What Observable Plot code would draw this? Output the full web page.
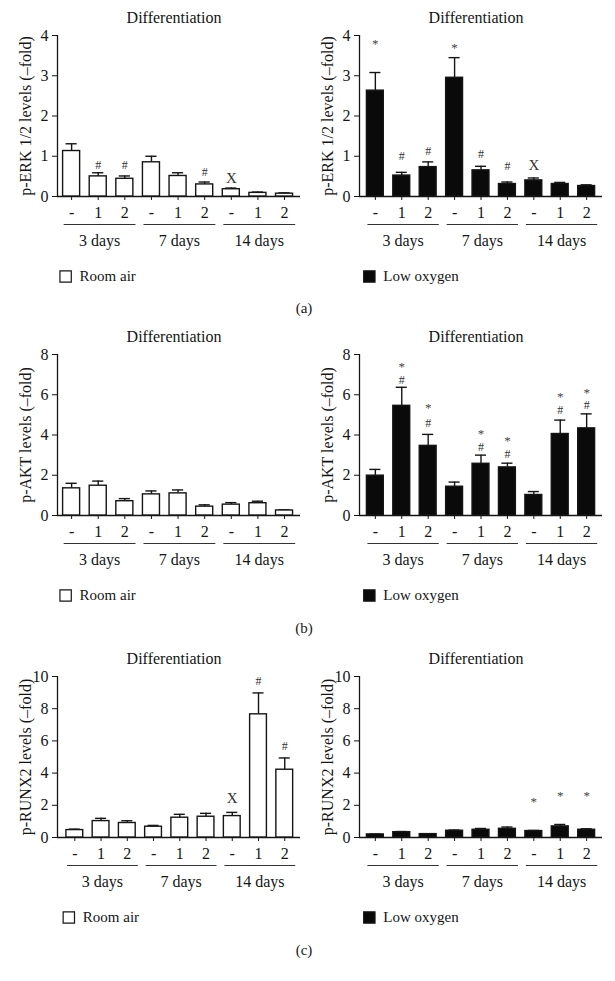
<!DOCTYPE html>
<html>
<head>
<meta charset="utf-8">
<script src="https://cdn.jsdelivr.net/npm/d3@7"></script>
<script src="https://cdn.jsdelivr.net/npm/@observablehq/plot@0.6"></script>
<style>
  html, body { margin: 0; padding: 0; background: #fff; }
  body { width: 615px; height: 981px; position: relative; overflow: hidden; font-family: "Liberation Serif", serif; color: #1a1a1a; }
  .panel { position: absolute; }
  .cap { position: absolute; font-size: 15px; transform: translate(-50%, -50%); }
</style>
</head>
<body>
<div id="root"></div>
<script>
// ---------- data ----------
const days = ["3 days", "7 days", "14 days"];
const treatments = ["-", "1", "2"];

// p-ERK 1/2
const erkRoom    = [1.13, 0.50, 0.44, 0.85, 0.51, 0.30, 0.18, 0.09, 0.07];
const erkRoomSem = [0.18, 0.09, 0.07, 0.15, 0.08, 0.06, 0.03, 0.02, 0.02];
const erkLow     = [2.63, 0.52, 0.73, 2.95, 0.65, 0.31, 0.40, 0.31, 0.26];
const erkLowSem  = [0.45, 0.08, 0.13, 0.50, 0.10, 0.05, 0.06, 0.04, 0.03];

// p-AKT
const aktRoom    = [1.35, 1.48, 0.71, 1.05, 1.10, 0.44, 0.54, 0.61, 0.25];
const aktRoomSem = [0.25, 0.23, 0.13, 0.17, 0.17, 0.09, 0.10, 0.10, 0.03];
const aktLow     = [1.98, 5.45, 3.46, 1.43, 2.57, 2.39, 1.02, 4.05, 4.33];
const aktLowSem  = [0.31, 0.92, 0.57, 0.23, 0.43, 0.21, 0.17, 0.69, 0.72];

// p-RUNX2
const runxRoom    = [0.46, 1.02, 0.90, 0.67, 1.23, 1.29, 1.33, 7.65, 4.21];
const runxRoomSem = [0.06, 0.17, 0.14, 0.08, 0.21, 0.21, 0.23, 1.33, 0.73];
const runxLow     = [0.19, 0.33, 0.21, 0.42, 0.48, 0.54, 0.40, 0.69, 0.48];
const runxLowSem  = [0.02, 0.04, 0.02, 0.04, 0.08, 0.11, 0.04, 0.12, 0.06];

// significance marks: level (in data units) where each symbol sits, null = none
const erkRoomHash = [null, 0.79, 0.79, null, null, 0.60, null, null, null];
const erkRoomX    = [null, null, null, null, null, null, 0.46, null, null];
const erkLowStar  = [3.83, null, null, 3.73, null, null, null, null, null];
const erkLowHash  = [null, 1.01, 1.13, null, 1.04, 0.75, null, null, null];
const erkLowX     = [null, null, null, null, null, null, 0.79, null, null];
const aktLowStar  = [null, 7.46, 5.43, null, 4.12, 3.80, null, 5.98, 6.17];
const aktLowHash  = [null, 6.75, 4.58, null, 3.40, 3.05, null, 5.23, 5.48];
const runxRoomHash = [null, null, null, null, null, null, null, 9.69, 5.67];
const runxRoomX    = [null, null, null, null, null, null, 2.44, null, null];
const runxLowStar  = [null, null, null, null, null, null, 2.29, 2.71, 2.71];

const titles = ["Differentiation"];
const legends = ["Room air", "Low oxygen"];
const yLabels = ["p-ERK 1/2 levels (–fold)", "p-AKT levels (–fold)", "p-RUNX2 levels (–fold)"];
const captions = ["(a)", "(b)", "(c)"];
const yMax = [4, 8, 10];
const yStep = [1, 2, 2];

// ---------- panels ----------
const panels = [
  {left: 0,   top: 0,   row: 0, v: erkRoom,  s: erkRoomSem,  fill: "white", legend: legends[0], hash: erkRoomHash, x: erkRoomX, x0: -0.53},
  {left: 302, top: 0,   row: 0, v: erkLow,   s: erkLowSem,   fill: "#0a0a0a", legend: legends[1], hash: erkLowHash, star: erkLowStar, x: erkLowX, x0: -0.6},
  {left: 0,   top: 319, row: 1, v: aktRoom,  s: aktRoomSem,  fill: "white", legend: legends[0], x0: -0.53},
  {left: 302, top: 319, row: 1, v: aktLow,   s: aktLowSem,   fill: "#0a0a0a", legend: legends[1], hash: aktLowHash, star: aktLowStar, x0: -0.6},
  {left: 0,   top: 641, row: 2, v: runxRoom, s: runxRoomSem, fill: "white", legend: legends[0], hash: runxRoomHash, x: runxRoomX, x0: -0.66},
  {left: 302, top: 641, row: 2, v: runxLow,  s: runxLowSem,  fill: "#0a0a0a", legend: legends[1], star: runxLowStar, x0: -0.6}
];

const INK = "#151515";
const root = document.getElementById("root");

function marksFor(arr, sym) {
  return (arr || []).map((y, i) => ({i, y, sym})).filter(d => d.y != null);
}

for (const p of panels) {
  const rows = p.v.map((v, i) => ({i, v, e: v + p.s[i]}));
  const groups = days.map((d, g) => ({d, a: g * 3 - 0.3, b: g * 3 + 2.4, mid: g * 3 + 1.05}));
  const ymax = yMax[p.row];
  const chart = Plot.plot({
    width: 305, height: 300,
    marginLeft: 57, marginRight: 5, marginTop: 35, marginBottom: 104,
    style: {fontFamily: "'Liberation Serif', serif", fontSize: "16px", color: INK, background: "transparent", overflow: "visible"},
    x: {domain: [p.x0, 8.6]},
    y: {domain: [0, ymax]},
    marks: [
      Plot.axisY({ticks: d3.range(0, ymax + 1e-9, yStep[p.row]), tickSize: 5, tickPadding: 4,
                  label: null, tickFormat: d3.format("d")}),
      Plot.axisX({ticks: d3.range(9), tickSize: 4, tickPadding: 6, tickFormat: i => treatments[i % 3], label: null}),
      Plot.text([yLabels[p.row]], {frameAnchor: "left", rotate: -90, dx: -32, fontSize: 16, textAnchor: "middle", lineAnchor: "middle"}),
      Plot.ruleY([0], {stroke: INK, strokeWidth: 1.3}),
      Plot.ruleX([p.x0], {stroke: INK, strokeWidth: 1.3}),
      Plot.ruleX(rows, {x: "i", y1: "v", y2: "e", stroke: INK, strokeWidth: 1.4}),
      Plot.ruleY(rows, {y: "e", x1: d => d.i - 0.21, x2: d => d.i + 0.21, stroke: INK, strokeWidth: 1.4}),
      Plot.rectY(rows, {x1: d => d.i - 0.32, x2: d => d.i + 0.32, y1: 0, y2: "v", fill: p.fill, stroke: INK, strokeWidth: 1.4}),
      Plot.text(marksFor(p.hash, "#"), {x: "i", y: "y", text: "sym", fontSize: 12, fill: "#333"}),
      Plot.text(marksFor(p.x, "X"), {x: "i", y: "y", text: "sym", fontSize: 15, fill: "#333"}),
      Plot.text(marksFor(p.star, "*"), {x: "i", y: "y", text: "sym", fontSize: 13, fill: "#444", dy: 1.5}),
      Plot.link(groups, {x1: "a", x2: "b", y1: 0, y2: 0, dy: 28, stroke: "#333", strokeWidth: 1}),
      Plot.text(groups, {x: "mid", y: 0, text: "d", dy: 44, fontSize: 16}),
      Plot.dot([{k: 0}], {x: "k", y: 0, dy: 80, dx: -6, symbol: "square", r: 6.4, fill: p.fill, stroke: INK, strokeWidth: 1.2}),
      Plot.text([{k: 0, t: p.legend}], {x: "k", y: 0, text: "t", dy: 80, dx: 8, textAnchor: "start", fontSize: 15}),
      Plot.text(titles, {frameAnchor: "top", lineAnchor: "middle", dy: -18, dx: -5, fontSize: 16})
    ]
  });
  chart.classList.add("panel");
  chart.style.left = p.left + "px";
  chart.style.top = p.top + "px";
  root.appendChild(chart);
}

const capY = [308, 628, 950];
captions.forEach((c, k) => {
  const el = document.createElement("div");
  el.className = "cap";
  el.textContent = c;
  el.style.left = "304px";
  el.style.top = capY[k] + "px";
  root.appendChild(el);
});
</script>
</body>
</html>
